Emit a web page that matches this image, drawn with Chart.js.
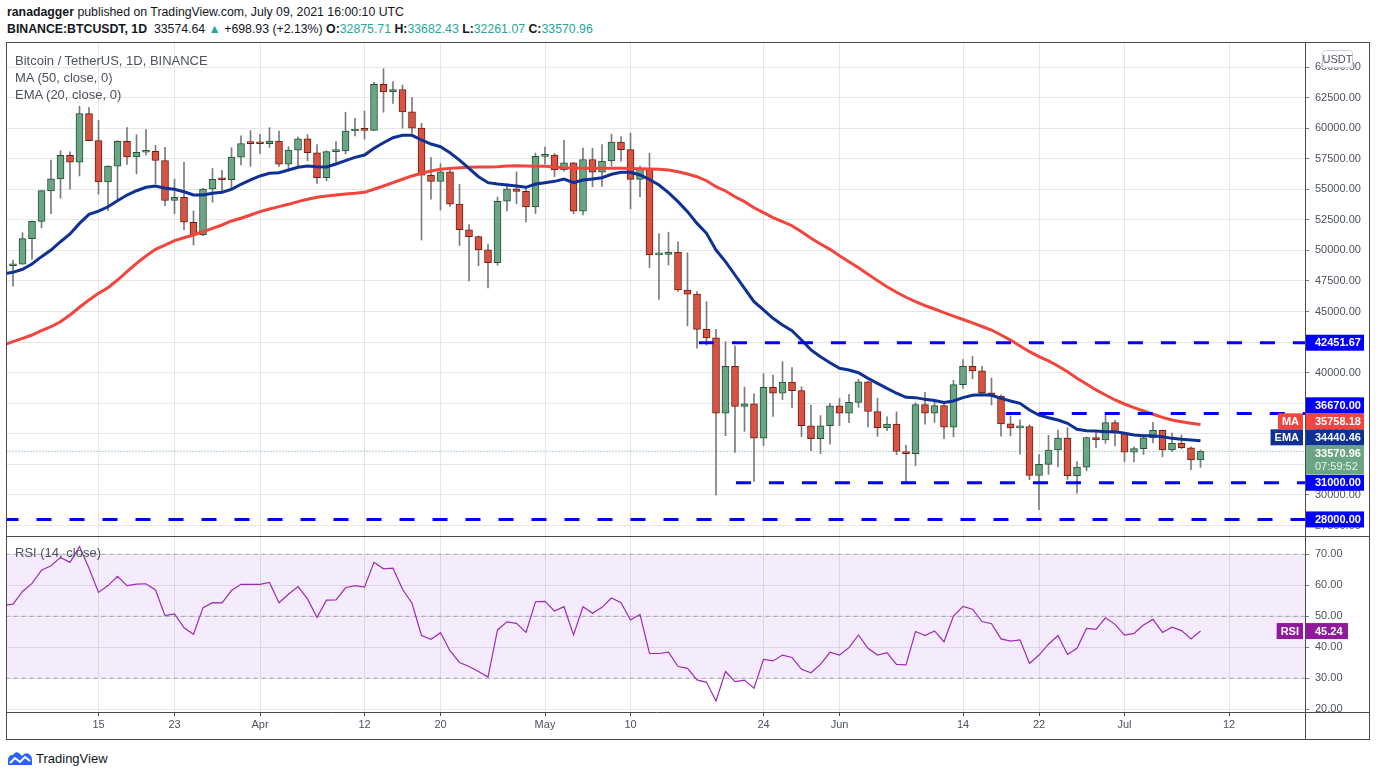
<!DOCTYPE html>
<html>
<head>
<meta charset="utf-8">
<title>BTCUSDT 1D</title>
<script src="https://cdn.jsdelivr.net/npm/chart.js@4.4.0/dist/chart.umd.min.js"></script>
<style>
  body { margin: 0; width: 1376px; height: 776px; background: #fff; overflow: hidden; position: relative;
         font-family: "Liberation Sans", Arial, sans-serif; color: #131722; }
  .hdr { position: absolute; left: 7px; font-size: 12.3px; line-height: 15px; white-space: nowrap; }
  #h1 { top: 5px; }
  #h2 { top: 22px; }
  .up { color: #26a69a; }
  #box { position: absolute; left: 6px; top: 42px; width: 1362px; height: 696px; border: 1px solid #4a4a4a; }
  #price { position: absolute; left: 0; top: 0; }
  #sep { position: absolute; left: 0; top: 493px; width: 1362px; height: 1px; background: #4a4a4a; }
  #rsi { position: absolute; left: 0; top: 494px; }
  #vline { position: absolute; left: 1298px; top: 0; width: 1px; height: 696px; background: #4a4a4a; }
  .lg { position: absolute; left: 8px; font-size: 13px; line-height: 15px; color: #4c525e; white-space: nowrap; }
  #logo { position: absolute; left: 7px; top: 750px; display: flex; align-items: center; gap: 3px; font-size: 13px; }
</style>
</head>
<body>
<div class="hdr" id="h1"><b>ranadagger</b> published on TradingView.com, July 09, 2021 16:00:10 UTC</div>
<div class="hdr" id="h2"><b>BINANCE:BTCUSDT, 1D</b>&nbsp; 33574.64 <span class="up">&#9650;</span> +698.93 (+2.13%)
  <b>O:</b><span class="up" id="o"></span> <b>H:</b><span class="up" id="h"></span>
  <b>L:</b><span class="up" id="l"></span> <b>C:</b><span class="up" id="c"></span></div>

<div id="box">
  <canvas id="price" width="1362" height="493"></canvas>
  <div id="sep"></div>
  <canvas id="rsi" width="1362" height="202"></canvas>
  <div id="vline"></div>
  <div class="lg" style="top:10px">Bitcoin / TetherUS, 1D, BINANCE</div>
  <div class="lg" style="top:27px">MA (50, close, 0)</div>
  <div class="lg" style="top:44px">EMA (20, close, 0)</div>
  <div class="lg" style="top:502px">RSI (14, close)</div>
</div>

<div id="logo">
  <svg width="26" height="16" viewBox="0 0 26 16">
    <path d="M1 15 L1 10 Q1 5 6 5 Q8 1 12 3 L15 6 Q18 2 22 4 Q25 6 25 10 L25 15 Z" fill="#2962ff"/>
    <polyline points="3,13 8,8 13,12 18,7 23,11" fill="none" stroke="#fff" stroke-width="2"/>
  </svg>
  <span>TradingView</span>
</div>

<script>
// daily candles, 2021-03-05 .. 2021-07-09
const firstDay = "2021-03-05";

const opens = [
  47910, 48746, 48882, 50971, 52376, 54874, 55851, 57773, 57221, 61188, 58976, 55605, 56900, 58912,
  57641, 58030, 58100, 57351, 54083, 54342, 52303, 51293, 55025, 55817, 55777, 57635, 58746,
  58740, 58720, 58950, 57051, 58202, 59129, 57991, 55950, 58077, 58142, 59769, 59960, 59820, 63575,
  62959, 63159, 61334, 60006, 56150, 55633, 56425, 53787, 51690, 51125, 50047, 49004, 54021, 55033,
  54824, 53555,
  57697, 57797, 56578, 57169, 53200, 57436, 56393, 57314, 58862, 58240, 55816, 56670, 49631, 49670,
  49841, 46762, 46431, 43538, 42849, 36690, 40526, 37252, 37449, 34655, 38796, 38324, 39241, 38529,
  35664, 34607, 35658,
  37293, 36693, 37569, 39246, 36829, 35513, 35796, 33552, 33380, 37389, 36693, 37313, 35551, 39020,
  40516, 40144, 38349, 38092, 35820, 35483, 35600, 31608, 32509, 33678, 34663, 31584, 32283, 34700,
  34494, 35911,
  35045, 33504, 33786, 34669, 35287, 33690, 34220, 33863, 32875.71
];
const highs = [
  49150, 49200, 51450, 52402, 54895, 57387, 58150, 58058, 61788, 61683, 60633, 56938, 58981, 60040,
  59468, 59880, 58589, 58430, 55830, 57200, 53230, 55073, 56700, 56559, 58400, 59368, 59800,
  59490, 60036, 59755, 58493, 59272, 59474, 58650, 58153, 58894, 61300, 60800, 61400, 63774, 64854,
  63800, 63520, 62500, 60400, 57600, 57100, 56757, 55400, 52120, 51200, 50500, 54370, 55460, 56428,
  55195, 57963,
  58448, 57930, 59000, 57200, 58360, 58360, 58650, 59500, 59300, 59600, 56900, 57940, 51367, 51483,
  50700, 49800, 46643, 45800, 43546, 42536, 42200, 38829, 38270, 39920, 39800, 40900, 40411, 38856,
  37338, 36488, 37499,
  37894, 38225, 39476, 39289, 37917, 36400, 36800, 34068, 37534, 38392, 37680, 37446, 39380, 41064,
  41330, 40527, 39559, 38200, 36457, 36139, 35750, 33298, 34881, 35298, 35500, 32730, 34749, 35297,
  36600, 36100,
  35100, 33939, 34909, 35937, 35293, 35059, 34900, 33929, 33682.43
];
const lows = [
  46300, 47070, 48882, 49274, 51845, 53005, 54272, 55013, 56083, 58965, 54600, 53271, 54123, 57023,
  56270, 57820, 55450, 53650, 53000, 51700, 50427, 51200, 53950, 54691, 54900, 57000, 56870,
  57935, 58428, 56863, 56478, 56800, 57333, 55473, 55700, 57200, 57900, 59360, 59100, 59800, 61301,
  62020, 60000, 59580, 50850, 54190, 53300, 53600, 50400, 47500, 48750, 46930, 48800, 53223, 53813,
  52330, 53013,
  57052, 56035, 56478, 53000, 52900, 55200, 55241, 56900, 57300, 53400, 54370, 48600, 46000, 48800,
  46650, 43825, 42001, 42250, 30000, 34850, 33488, 35200, 31111, 34031, 36419, 37800, 37134, 34779,
  33632, 33379, 34153,
  35666, 35920, 37170, 35567, 34800, 35258, 33300, 31000, 32396, 35782, 35936, 34600, 34757, 38730,
  39506, 38116, 37365, 34810, 34833, 33336, 31251, 28805, 31683, 32286, 31275, 30151, 31964, 33862,
  34225, 34017,
  32711, 32699, 33316, 34262, 33125, 33532, 33780, 32077, 32261.07
];
const closes = [
  48746, 48882, 50971, 52375, 54884, 55851, 57773, 57221, 61188, 58968, 55605, 56900, 58912, 57648,
  58030, 58102, 57351, 54083, 54340, 52303, 51293, 55025, 55817, 55777, 57635, 58746, 58740,
  58720, 58950, 57051, 58202, 59129, 57991, 55950, 58077, 58142, 59769, 59860, 59820, 63575, 62959,
  63159, 61334, 60006, 56150, 55633, 56425, 53787, 51690, 51125, 50047, 49004, 54021, 55033, 54824,
  53555, 57697,
  57797, 56578, 57169, 53200, 57436, 56393, 57314, 58862, 58240, 55816, 56670, 49631, 49670, 49841,
  46762, 46431, 43538, 42849, 36690, 40526, 37252, 37449, 34655, 38796, 38324, 39241, 38529, 35664,
  34607, 35658, 37293,
  36693, 37569, 39246, 36829, 35513, 35796, 33552, 33380, 37389, 36693, 37313, 35551, 39020, 40516,
  40144, 38349, 38092, 35820, 35483, 35600, 31608, 32509, 33678, 34663, 31584, 32283, 34700, 34494,
  35911, 35045,
  33504, 33786, 34669, 35287, 33690, 34220, 33863, 32875.71, 33570.96
];

// indicators, same days
const ma50 = [
  42270, 42540, 42810, 43080, 43440, 43760, 44170, 44720, 45350, 45950, 46490, 46950, 47580, 48260,
  48940, 49540, 50090, 50440, 50800, 51040, 51260, 51530, 51810, 52080, 52410, 52630, 52900,
  53170, 53390, 53580, 53770, 53990, 54180, 54340, 54450, 54530, 54610, 54670, 54750, 55000, 55270,
  55540, 55820, 56090, 56310, 56500, 56630, 56710, 56770, 56800, 56830, 56830, 56850, 56900, 56930,
  56900, 56880,
  56880, 56830, 56770, 56740, 56710, 56710, 56710, 56710, 56710, 56700, 56680, 56650, 56630, 56580,
  56440, 56250, 56030, 55700, 55210, 54860, 54390, 53990, 53490, 53090, 52680, 52350, 52020, 51530,
  50990, 50520, 50090,
  49570, 49080, 48590, 48050, 47530, 47030, 46580, 46170, 45810, 45480, 45210, 44910, 44630, 44350,
  44070, 43780, 43490, 43080, 42670, 42180, 41720, 41310, 40960, 40550, 40080, 39540, 39080, 38590,
  38180, 37770,
  37440, 37140, 36870, 36600, 36350, 36130, 35990, 35860, 35758.18
];
const ema20 = [
  48080, 48210, 48460, 48890, 49490, 50030, 50710, 51340, 52210, 52950, 53220, 53570, 54060, 54530,
  54880, 55160, 55270, 55080, 55000, 54800, 54530, 54530, 54670, 54750, 55000, 55410, 55760,
  56090, 56310, 56360, 56580, 56800, 56900, 56850, 56830, 57070, 57340, 57610, 57800, 58350, 58810,
  59220, 59410, 59410, 59030, 58700, 58480, 57990, 57390, 56710, 56030, 55540, 55430, 55350, 55270,
  55160, 55430,
  55540, 55650, 55840, 55540, 55760, 55840, 55950, 56230, 56390, 56390, 56170, 55800, 55350, 54720,
  53990, 53170, 52210, 51400, 50030, 49080, 47990, 46900, 45810, 45130, 44450, 43900, 43440, 42670,
  41860, 41310, 40820,
  40360, 40220, 40000, 39540, 39130, 38720, 38320, 37990, 37960, 37820, 37730, 37570, 37690, 37960,
  38150, 38200, 38150, 37900, 37690, 37500, 36950, 36540, 36320, 36130, 35860, 35370, 35260, 35230,
  35180, 35180,
  35040, 34900, 34850, 34850, 34770, 34630, 34550, 34500, 34440.46
];
const rsi14 = [
  53.6, 53.9, 58.0, 60.6, 64.9, 66.3, 69.0, 67.4, 72.5, 65.5, 57.7, 59.9, 62.9, 59.9,
  60.4, 60.5, 58.5, 50.2, 50.8, 46.3, 44.2, 52.8, 54.4, 54.3, 58.3, 60.3, 60.3,
  60.3, 60.9, 54.4, 57.1, 59.6, 55.6, 49.6, 55.2, 55.3, 59.2, 59.9, 59.4, 67.4, 65.3,
  65.5, 58.7, 54.2, 43.8, 42.6, 44.7, 38.9, 35.1, 33.8, 32.2, 30.4, 45.6, 48.2, 47.7,
  44.8, 54.7,
  54.8, 51.7, 53.1, 44.0, 53.1, 51.0, 52.9, 55.9, 54.4, 48.8, 50.6, 38.0, 38.0, 38.4,
  33.8, 33.2, 29.5, 28.7, 22.7, 32.2, 28.9, 29.4, 26.8, 36.1, 35.6, 37.5, 36.7, 32.9,
  31.8, 34.5, 38.4,
  37.5, 39.9, 44.0, 39.7, 37.5, 38.3, 34.5, 34.3, 45.1, 43.8, 45.3, 41.8, 50.1, 53.2,
  52.3, 48.3, 47.6, 42.7, 42.0, 42.4, 34.8, 37.5, 41.0, 43.8, 37.7, 39.7, 46.1, 45.8,
  49.5, 47.4,
  43.9, 44.5, 47.2, 49.0, 44.8, 46.5, 45.4, 42.7, 45.24
];

// drawn levels: price and the day where each line starts (days after firstDay)
const levels = [42451.67, 36670, 31000, 28000];
const levelFrom = [73.2, 105.5, 77.1, 0];
const rsiBands = [70, 50, 30];

// axis ticks
const priceTicks = [27500, 30000, 32500, 35000, 37500, 40000, 42500, 45000, 47500, 50000,
  52500, 55000, 57500, 60000, 62500, 65000];
const rsiTicks = [20, 30, 40, 50, 60, 70];
const tickDates = ["2021-03-15", "2021-03-23", "2021-04-01", "2021-04-12", "2021-04-20", "2021-05-01",
  "2021-05-10", "2021-05-24", "2021-06-01", "2021-06-14", "2021-06-22", "2021-07-01", "2021-07-12"];
const tickLabels = ["15", "23", "Apr", "12", "20", "May", "10", "24", "Jun", "14", "22", "Jul", "12"];

const countdown = "07:59:52";

const DAY = 86400000;
function dayIndex(d) {
  return Math.round((Date.parse(d) - Date.parse(firstDay)) / DAY);
}

const last = closes.length - 1;
document.getElementById("o").textContent = opens[last].toFixed(2);
document.getElementById("h").textContent = highs[last].toFixed(2);
document.getElementById("l").textContent = lows[last].toFixed(2);
document.getElementById("c").textContent = closes[last].toFixed(2);

Chart.defaults.font.family = "'Liberation Sans', Arial, sans-serif";

const xMin = 0.368, xMax = 137.0;
const FONT = { family: "'Liberation Sans', Arial, sans-serif", size: 11 };
const up = closes.map((c, i) => c >= opens[i]);

// keep the plot area at the full canvas, no label padding
function noPad(scale) {
  scale.paddingTop = 0;
  scale.paddingBottom = 0;
  scale.paddingLeft = 0;
  scale.paddingRight = 0;
}

function xAxis(showLabels) {
  return {
    type: "linear",
    min: xMin,
    max: xMax,
    offset: false,
    afterBuildTicks: (scale) => {
      scale.ticks = tickDates.map((d) => ({ value: dayIndex(d) }));
    },
    ticks: {
      display: showLabels,
      autoSkip: false,
      maxRotation: 0,
      padding: 2,
      color: "#4c525e",
      font: FONT,
      callback: (v, i) => tickLabels[i],
    },
    grid: { color: "#e6e6e6", offset: false, drawTicks: showLabels, tickLength: 4, tickColor: "#4a4a4a" },
    border: { display: showLabels, color: "#4a4a4a" },
    afterFit: (scale) => {
      scale.height = showLabels ? 27 : 0;
      noPad(scale);
    },
  };
}

function yAxis(min, max, values) {
  return {
    position: "right",
    min: min,
    max: max,
    afterBuildTicks: (scale) => {
      scale.ticks = values.map((v) => ({ value: v }));
    },
    ticks: {
      autoSkip: false,
      padding: 6,
      color: "#4c525e",
      font: FONT,
      callback: (v) => v.toFixed(2),
    },
    grid: { color: "#e6e6e6", tickLength: 4, tickColor: "#787b86" },
    border: { color: "#4a4a4a" },
    afterFit: (scale) => {
      scale.width = 64;
      noPad(scale);
    },
  };
}

function flatLine(v, from) {
  return [{ x: from, y: v }, { x: xMax + 1, y: v }];
}

// coloured value boxes on the price axis
const axisTags = {
  id: "axisTags",
  afterDraw(chart, args, opts) {
    const ctx = chart.ctx;
    const area = chart.chartArea;
    const scale = chart.scales.y;
    const placed = opts.items
      .map((it) => Object.assign({ py: scale.getPixelForValue(it.value) }, it))
      .sort((a, b) => b.py - a.py);
    let limit = Infinity;
    placed.forEach((it) => {
      it.h = it.sub ? 29 : 16;
      let top = it.py - (it.sub ? 6 : 8);
      if (top + it.h > limit) top = limit - it.h;
      it.top = top;
      limit = top;
    });

    ctx.save();
    if (opts.coverBottom) {
      ctx.fillStyle = "#fff";
      ctx.fillRect(area.right + 1, area.bottom, chart.width - area.right, chart.height - area.bottom);
      ctx.fillStyle = "#4a4a4a";
      ctx.fillRect(area.right, area.bottom, chart.width - area.right, 1);
    }
    ctx.textBaseline = "middle";
    placed.forEach((it) => {
      ctx.fillStyle = it.bg;
      ctx.fillRect(area.right + 1, it.top, opts.boxWidth, it.h);
      ctx.font = "bold 11px 'Liberation Sans'";
      ctx.fillStyle = "#fff";
      ctx.textAlign = "left";
      ctx.fillText(it.value.toFixed(2), area.right + 10, it.top + 8.5);
      if (it.sub) {
        ctx.font = "11px 'Liberation Sans'";
        ctx.fillStyle = "rgba(255,255,255,0.85)";
        ctx.fillText(it.sub, area.right + 10, it.top + 22);
      }
      if (it.tag) {
        ctx.font = "bold 11px 'Liberation Sans'";
        const w = ctx.measureText(it.tag).width + 8;
        ctx.fillStyle = it.bg;
        ctx.fillRect(area.right - 2 - w, it.top, w, it.h);
        ctx.fillStyle = "#fff";
        ctx.textAlign = "center";
        ctx.fillText(it.tag, area.right - 2 - w / 2, it.top + 8.5);
      }
    });
    if (opts.unit) {
      ctx.fillStyle = "#fff";
      ctx.strokeStyle = "#c9ccd4";
      ctx.beginPath();
      ctx.roundRect(area.right + 17.5, 7.5, 30, 17, 3);
      ctx.fill();
      ctx.stroke();
      ctx.font = "11px 'Liberation Sans'";
      ctx.fillStyle = "#4c525e";
      ctx.textAlign = "center";
      ctx.fillText(opts.unit, area.right + 32.5, 16.5);
    }
    ctx.restore();
  },
};

const priceSets = [];
levels.forEach((v, k) => {
  priceSets.push({
    type: "line",
    label: "level " + v,
    data: flatLine(v, levelFrom[k]),
    borderColor: "#0000ff",
    borderWidth: 3,
    borderDash: [15, 18],
    pointRadius: 0,
    clip: 0,
    order: 0,
  });
});
priceSets.push({
  type: "line",
  label: "last price",
  data: flatLine(closes[last], xMin - 1),
  borderColor: "#6ba583",
  borderWidth: 1,
  borderDash: [1, 2],
  pointRadius: 0,
  clip: 0,
  order: 1,
});
priceSets.push({
  type: "line",
  label: "EMA (20, close, 0)",
  data: ema20.map((v, i) => ({ x: i, y: v })),
  borderColor: "#0f3195",
  borderWidth: 3,
  pointRadius: 0,
  clip: 0,
  order: 2,
});
priceSets.push({
  type: "line",
  label: "MA (50, close, 0)",
  data: ma50.map((v, i) => ({ x: i, y: v })),
  borderColor: "#f2453d",
  borderWidth: 3,
  pointRadius: 0,
  clip: 0,
  order: 3,
});
priceSets.push({
  type: "bar",
  label: "bodies",
  data: opens.map((o, i) => ({ x: i, y: [o, closes[i]] })),
  backgroundColor: up.map((u) => (u ? "#6ba583" : "#d75442")),
  borderColor: up.map((u) => (u ? "#225437" : "#6f1b12")),
  borderWidth: 1,
  borderSkipped: false,
  barThickness: 7,
  minBarLength: 2,
  grouped: false,
  order: 4,
});
priceSets.push({
  type: "bar",
  label: "wicks",
  data: lows.map((lo, i) => ({ x: i, y: [lo, highs[i]] })),
  backgroundColor: "#7b7b7d",
  barThickness: 1,
  grouped: false,
  order: 5,
});

new Chart(document.getElementById("price"), {
  type: "bar",
  data: { datasets: priceSets },
  options: {
    responsive: false,
    animation: false,
    events: [],
    layout: { padding: 0, autoPadding: false },
    plugins: {
      legend: { display: false },
      tooltip: { enabled: false },
      axisTags: {
        boxWidth: 58,
        unit: "USDT",
        items: [
          { value: levels[0], bg: "#0000ff" },
          { value: levels[1], bg: "#0000ff" },
          { value: ma50[last], bg: "#f2453d", tag: "MA" },
          { value: ema20[last], bg: "#0f3195", tag: "EMA" },
          { value: closes[last], bg: "#6ba583", sub: countdown },
          { value: levels[2], bg: "#0000ff" },
          { value: levels[3], bg: "#0000ff" },
        ],
      },
    },
    scales: {
      x: xAxis(false),
      y: yAxis(26645, 66963, priceTicks),
    },
  },
  plugins: [axisTags],
});

const rsiSets = rsiBands.map((v) => ({
  type: "line",
  label: "band " + v,
  data: flatLine(v, xMin - 1),
  borderColor: "rgba(120,123,134,0.6)",
  borderWidth: 1,
  borderDash: [4, 4],
  pointRadius: 0,
  clip: 0,
  fill: v === rsiBands[0] ? { value: rsiBands[2] } : false,
  backgroundColor: "rgba(155,80,230,0.11)",
  order: 2,
}));
rsiSets.push({
  type: "line",
  label: "RSI (14, close)",
  data: rsi14.map((v, i) => ({ x: i, y: v })),
  borderColor: "#9f2bb5",
  borderWidth: 1.2,
  pointRadius: 0,
  clip: 0,
  order: 0,
});

new Chart(document.getElementById("rsi"), {
  type: "line",
  data: { datasets: rsiSets },
  options: {
    responsive: false,
    animation: false,
    events: [],
    layout: { padding: 0, autoPadding: false },
    plugins: {
      legend: { display: false },
      tooltip: { enabled: false },
      axisTags: {
        boxWidth: 42,
        coverBottom: true,
        items: [{ value: rsi14[last], bg: "#8f1a9c", tag: "RSI" }],
      },
    },
    scales: {
      x: xAxis(true),
      y: yAxis(19.13, 75.58, rsiTicks),
    },
  },
  plugins: [axisTags],
});
</script>
</body>
</html>
